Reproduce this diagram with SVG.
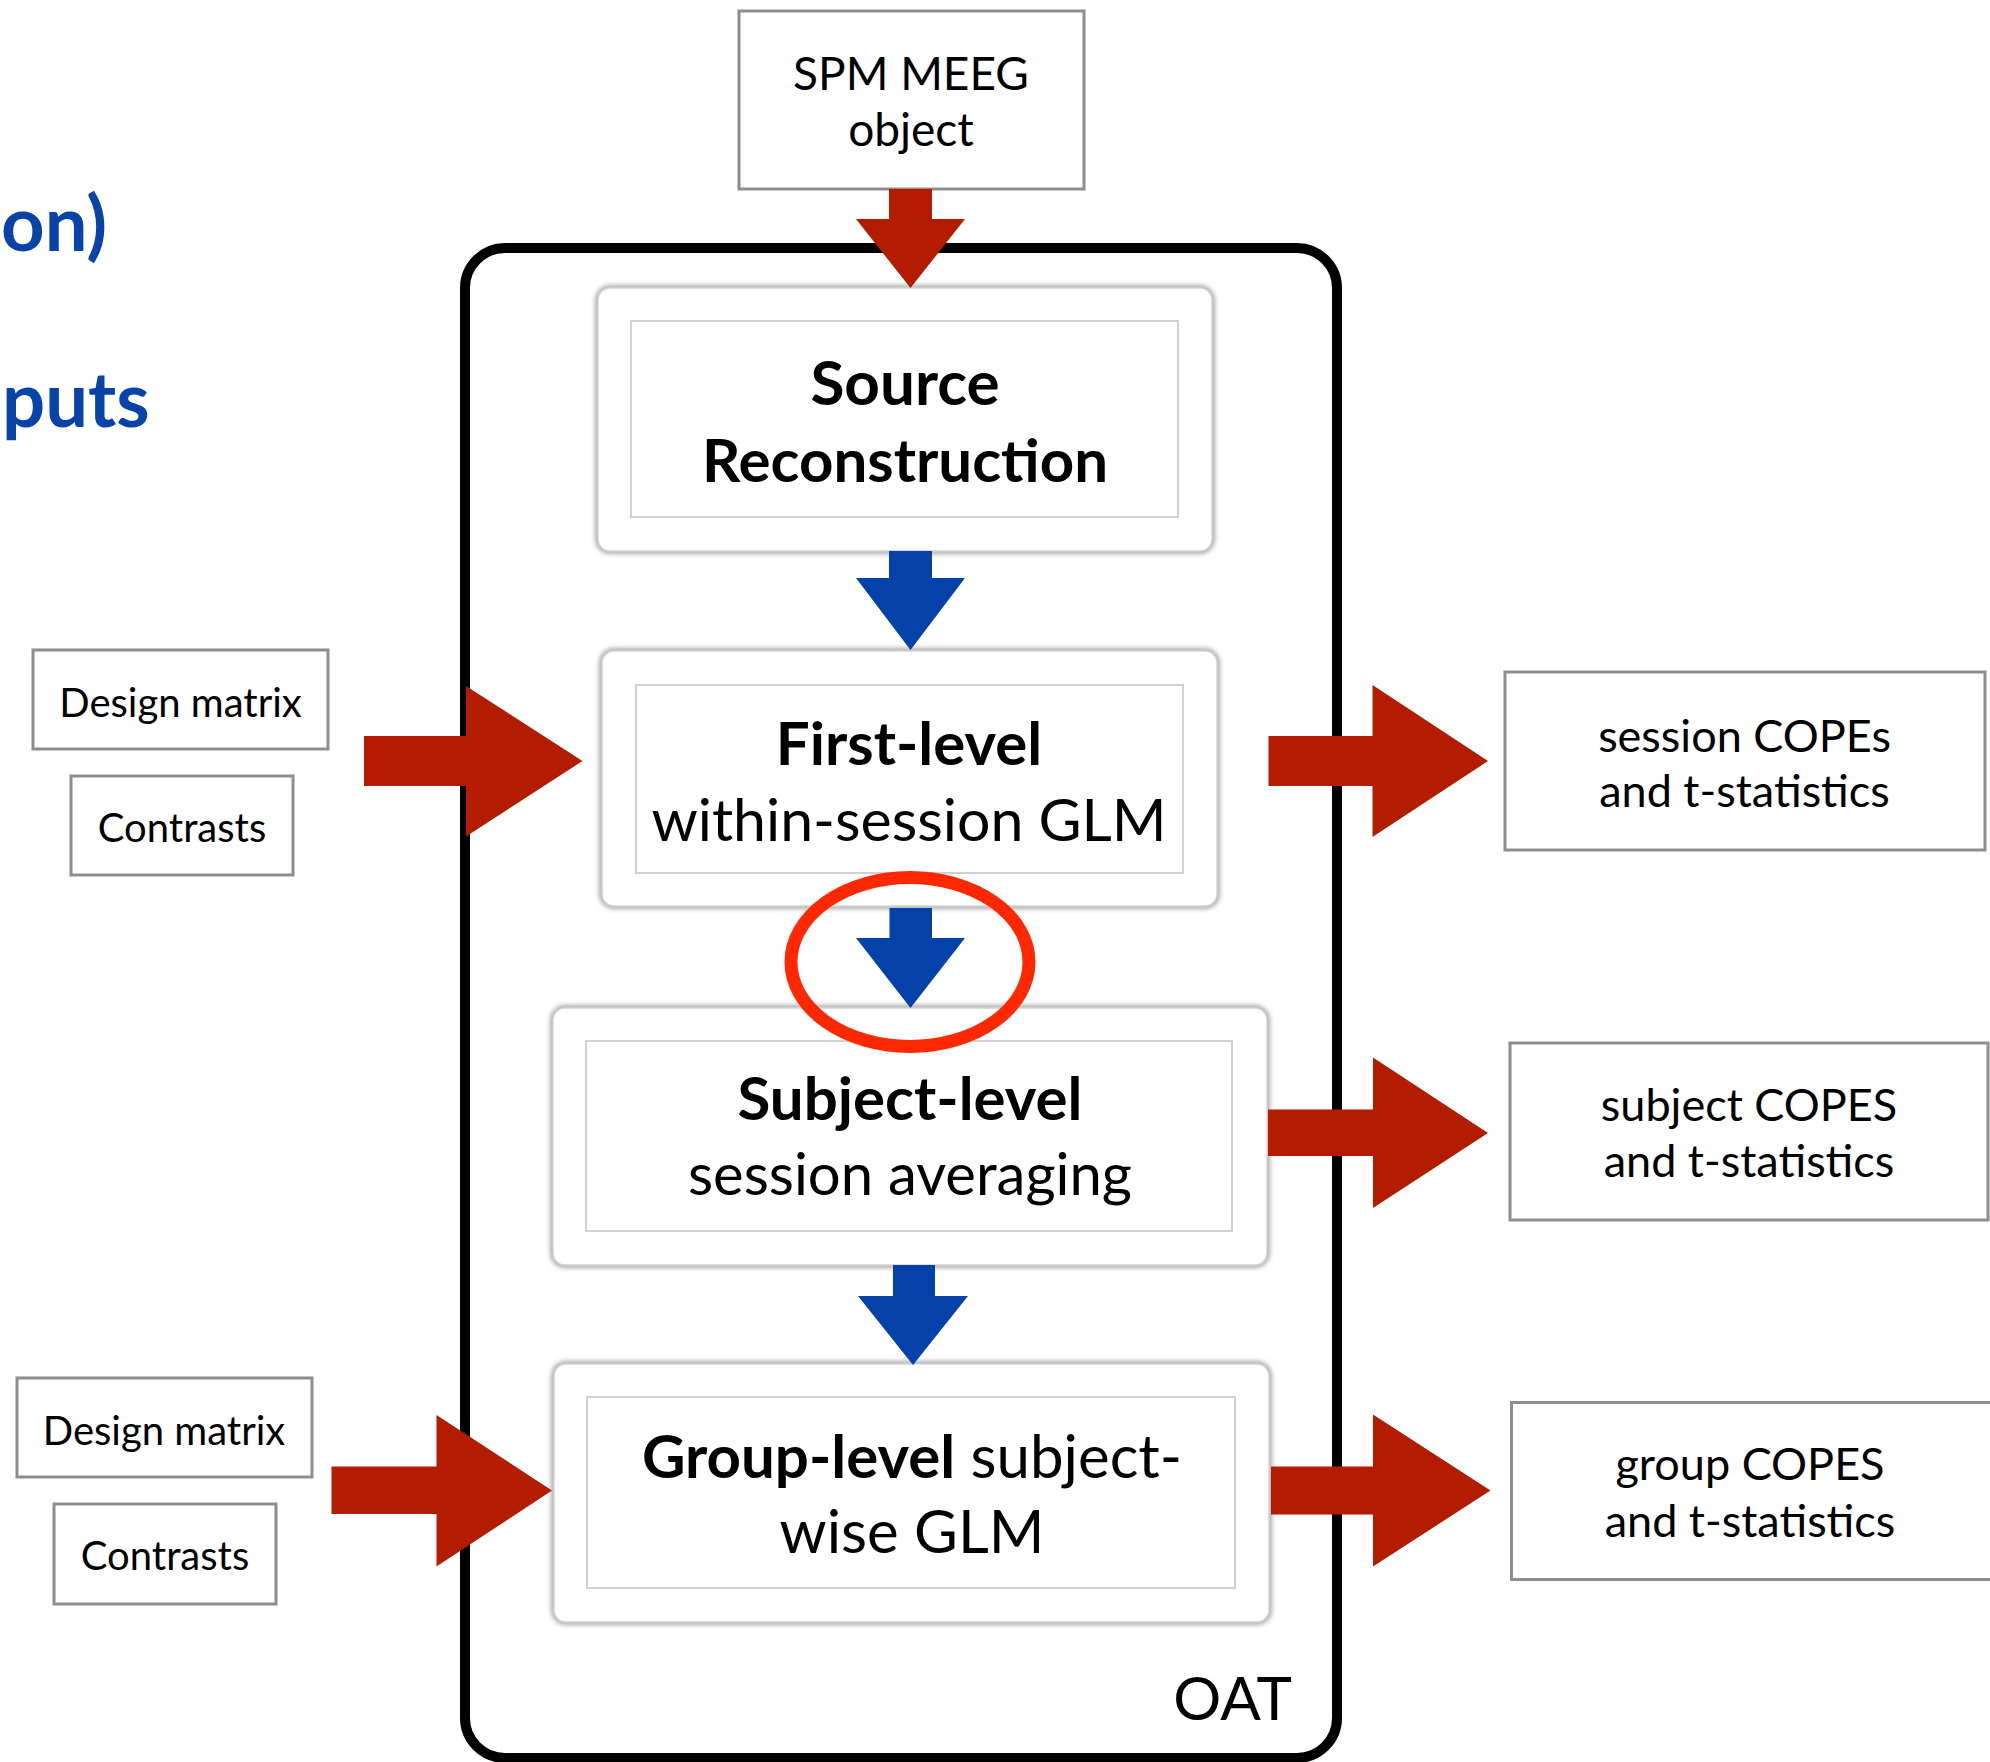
<svg xmlns="http://www.w3.org/2000/svg" width="1990" height="1762" viewBox="0 0 1990 1762">
<style>
  .t { font-family: Lato, "Open Sans", "Liberation Sans", sans-serif; fill: #000; text-anchor: middle; }
  .b { font-weight: 700; }
  .stage { font-size: 60px; }
  .side { font-size: 40px; }
  .out { font-size: 45px; }
  .box { fill: #fff; stroke: #8e8e8e; stroke-width: 3; }
  .sh { fill: none; stroke: #9a9a9a; stroke-width: 5; }
  .so { fill: #fff; stroke: #d2d2d2; stroke-width: 1.5; }
  .si { fill: #fff; stroke: #d0d0d0; stroke-width: 2; }
  .red { fill: #b41c00; }
  .blue { fill: #0441a9; }
  .hd { font-family: Lato, "Open Sans", "Liberation Sans", sans-serif; font-weight: 700; font-size: 76px; fill: #0844a8; }
</style>
<defs>
  <filter id="blur" x="-5%" y="-5%" width="110%" height="110%">
    <feGaussianBlur stdDeviation="2.5"/>
  </filter>
</defs>
<rect width="1990" height="1762" fill="#fff"/>

<g id="heading">
  <text class="hd" x="1" y="251">on)</text>
  <text class="hd" x="2" y="427">puts</text>
</g>

<g id="oat-frame">
  <rect x="465" y="248" width="872" height="1510" rx="40" fill="none" stroke="#000" stroke-width="10"/>
  <text class="t" x="1292" y="1720" style="text-anchor:end;font-size:60px">OAT</text>
</g>

<g id="spm-meeg">
  <rect class="box" x="739" y="11" width="345" height="178"/>
  <text class="t" x="911" y="90" style="font-size:46px">SPM MEEG</text>
  <text class="t" x="911" y="146" style="font-size:46px">object</text>
</g>

<g id="source-reconstruction">
  <rect class="sh" x="598" y="288" width="614" height="263" rx="12" filter="url(#blur)"/>
  <rect class="so" x="598" y="288" width="614" height="263" rx="12"/>
  <rect class="si" x="631" y="321" width="547" height="196"/>
  <text class="t b" x="905" y="405" style="font-size:62px">Source</text>
  <text class="t b stage" x="905" y="482">Reconstruction</text>
</g>

<g id="first-level">
  <rect class="sh" x="602" y="651" width="615" height="255" rx="12" filter="url(#blur)"/>
  <rect class="so" x="602" y="651" width="615" height="255" rx="12"/>
  <rect class="si" x="636" y="685" width="547" height="188"/>
  <text class="t b stage" x="909" y="765">First-level</text>
  <text class="t" x="909" y="841" style="font-size:59px">within-session GLM</text>
</g>

<g id="subject-level">
  <rect class="sh" x="553" y="1008" width="714" height="257" rx="12" filter="url(#blur)"/>
  <rect class="so" x="553" y="1008" width="714" height="257" rx="12"/>
  <rect class="si" x="586" y="1041" width="646" height="190"/>
  <text class="t b stage" x="910" y="1120">Subject-level</text>
  <text class="t" x="910" y="1195" style="font-size:58px">session averaging</text>
</g>

<g id="group-level">
  <rect class="sh" x="554" y="1364" width="715" height="258" rx="12" filter="url(#blur)"/>
  <rect class="so" x="554" y="1364" width="715" height="258" rx="12"/>
  <rect class="si" x="587" y="1397" width="648" height="191"/>
  <text class="t stage" x="912" y="1478"><tspan class="b">Group-level</tspan> subject-</text>
  <text class="t stage" x="912" y="1553">wise GLM</text>
</g>

<g id="design-matrix-1">
  <rect class="box" x="33" y="650" width="295" height="99"/>
  <text class="t side" x="180.5" y="717">Design matrix</text>
</g>
<g id="contrasts-1">
  <rect class="box" x="71" y="776" width="222" height="99"/>
  <text class="t side" x="182" y="842">Contrasts</text>
</g>
<g id="design-matrix-2">
  <rect class="box" x="17" y="1378" width="295" height="99"/>
  <text class="t side" x="164" y="1445">Design matrix</text>
</g>
<g id="contrasts-2">
  <rect class="box" x="54" y="1504" width="222" height="100"/>
  <text class="t side" x="165" y="1570">Contrasts</text>
</g>

<g id="session-copes">
  <rect class="box" x="1505" y="672" width="480" height="178"/>
  <text class="t out" x="1744.5" y="752">session COPEs</text>
  <text class="t out" x="1744.5" y="807">and t-statistics</text>
</g>
<g id="subject-copes">
  <rect class="box" x="1510" y="1043" width="478" height="177"/>
  <text class="t out" x="1749" y="1121">subject COPES</text>
  <text class="t out" x="1749" y="1177">and t-statistics</text>
</g>
<g id="group-copes">
  <rect class="box" x="1511.5" y="1402.5" width="482" height="177"/>
  <text class="t out" x="1750" y="1480">group COPES</text>
  <text class="t out" x="1750" y="1537">and t-statistics</text>
</g>

<g id="connectors">
  <polygon class="red" points="889,189 932,189 932,219 965,219 910.5,288 856,219 889,219"/>
  <polygon class="blue" points="889,551 932,551 932,578 965,578 910.5,650 856,578 889,578"/>
  <polygon class="blue" points="889.5,908 932,908 932,938 965,938 910.5,1008 856,938 889.5,938"/>
  <polygon class="blue" points="893,1265 935,1265 935,1296 968,1296 913,1365 858,1296 893,1296"/>
  <polygon class="red" points="364,736 466,736 466,686 582.5,761 466,836.5 466,786 364,786"/>
  <polygon class="red" points="331.5,1466.5 436.5,1466.5 436.5,1415 552,1490.5 436.5,1566.5 436.5,1514 331.5,1514"/>
  <polygon class="red" points="1268.5,736 1372.5,736 1372.5,685 1488,761 1372.5,837 1372.5,786 1268.5,786"/>
  <polygon class="red" points="1268,1109.5 1373,1109.5 1373,1057.5 1488,1133 1373,1208 1373,1156 1268,1156"/>
  <polygon class="red" points="1271,1466.5 1373,1466.5 1373,1414.5 1490.5,1490.5 1373,1566.5 1373,1514.5 1271,1514.5"/>
  <ellipse cx="910" cy="962" rx="119" ry="84.5" fill="none" stroke="#ff2800" stroke-width="13"/>
</g>
</svg>
